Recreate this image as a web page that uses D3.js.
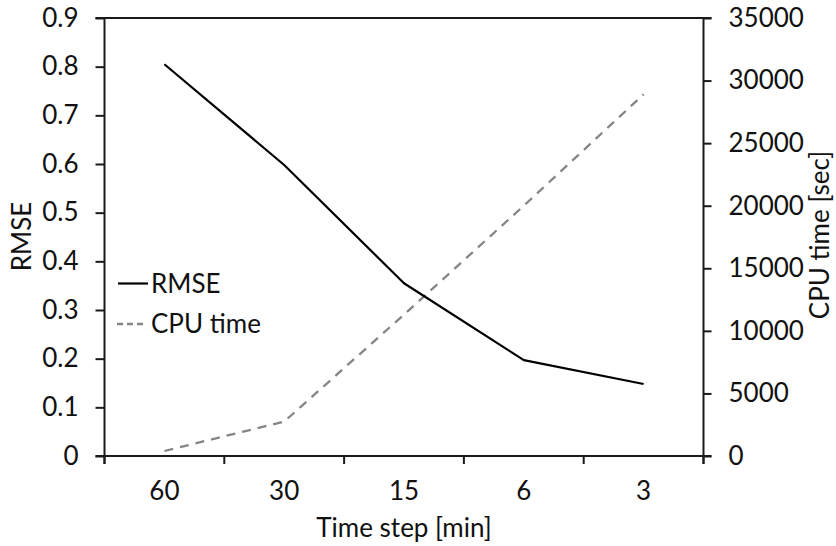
<!DOCTYPE html>
<html>
<head>
<meta charset="utf-8">
<script src="https://cdn.jsdelivr.net/npm/d3@7"></script>
<style>
  html, body { margin: 0; padding: 0; background: #fff; }
  svg { display: block; }
  text { font-family: Lato, "Open Sans", sans-serif; fill: #111; }
</style>
</head>
<body>
<svg id="chart" width="836" height="546"></svg>
<script>
// ---- data ----
const categories = ["60", "30", "15", "6", "3"];
const rmseValues = [0.805, 0.598, 0.355, 0.197, 0.148];
const cpuValues = [400, 2750, 11300, 20000, 28900];
const leftTicks = [0, 0.1, 0.2, 0.3, 0.4, 0.5, 0.6, 0.7, 0.8, 0.9];
const rightTicks = [0, 5000, 10000, 15000, 20000, 25000, 30000, 35000];
const seriesNames = ["RMSE", "CPU time"];

// ---- layout ----
const W = 836, H = 546;
const plot = { left: 104.5, right: 703.5, top: 18, bottom: 456 };
const FS = 26;
const axisColor = "#1a1a1a";

const svg = d3.select("#chart");

const x = d3.scaleBand().domain(categories).range([plot.left, plot.right]).padding(0);
const yL = d3.scaleLinear().domain([0, 0.9]).range([plot.bottom, plot.top]);
const yR = d3.scaleLinear().domain([0, 35000]).range([plot.bottom, plot.top]);
const cx = c => x(c) + x.bandwidth() / 2;

// left axis
const leftAxis = d3.axisLeft(yL).tickValues(leftTicks)
  .tickFormat(d => d === 0 ? "0" : d3.format(".1f")(d))
  .tickSize(9).tickPadding(17);
const gL = svg.append("g").attr("transform", `translate(${plot.left},0)`).call(leftAxis);

// right axis
const rightAxis = d3.axisRight(yR).tickValues(rightTicks)
  .tickFormat(d3.format("d")).tickSize(8).tickPadding(17);
const gR = svg.append("g").attr("transform", `translate(${plot.right},0)`).call(rightAxis);

// bottom axis labels (centered in categories)
const bottomAxis = d3.axisBottom(x).tickSize(0).tickPadding(26);
const gB = svg.append("g").attr("transform", `translate(0,${plot.bottom})`).call(bottomAxis);
gB.select(".domain").remove();

// category boundary ticks
const edges = categories.map(c => x(c)).concat([x.range()[1]]);
svg.append("g").selectAll("line").data(edges).join("line")
  .attr("x1", d => d).attr("x2", d => d)
  .attr("y1", plot.bottom).attr("y2", plot.bottom + 8)
  .attr("stroke", axisColor).attr("stroke-width", 2);

[gL, gR, gB].forEach(g => {
  g.selectAll(".domain").attr("stroke", axisColor).attr("stroke-width", 2);
  g.selectAll(".tick line").attr("stroke", axisColor).attr("stroke-width", 2);
  g.selectAll(".tick text").attr("font-size", FS).attr("font-family", "Lato, 'Open Sans', sans-serif").attr("fill", "#111");
});
gL.select(".domain").attr("d", `M0,${plot.top}V${plot.bottom + 8}`);
gR.select(".domain").attr("d", `M0,${plot.top}V${plot.bottom + 8}`);

// horizontal lines at 0 and top
svg.append("line").attr("x1", plot.left - 9).attr("x2", plot.right + 8)
  .attr("y1", plot.bottom).attr("y2", plot.bottom)
  .attr("stroke", axisColor).attr("stroke-width", 2);
svg.append("line").attr("x1", plot.left - 9).attr("x2", plot.right + 8)
  .attr("y1", plot.top).attr("y2", plot.top)
  .attr("stroke", axisColor).attr("stroke-width", 2);

// series
const rmseLine = d3.line().x((d, i) => cx(categories[i])).y(d => yL(d));
const cpuLine = d3.line().x((d, i) => cx(categories[i])).y(d => yR(d));

svg.append("path").datum(cpuValues).attr("d", cpuLine)
  .attr("fill", "none").attr("stroke", "#858585").attr("stroke-width", 2.3)
  .attr("stroke-dasharray", "9,7");
svg.append("path").datum(rmseValues).attr("d", rmseLine)
  .attr("fill", "none").attr("stroke", "#000").attr("stroke-width", 2.2)
  .attr("stroke-linejoin", "round");

// legend
const leg = svg.append("g");
leg.append("line").attr("x1", 118).attr("x2", 148).attr("y1", 283.5).attr("y2", 283.5)
  .attr("stroke", "#000").attr("stroke-width", 2.2);
leg.append("text").attr("x", 151).attr("y", 283.5).attr("dy", "0.35em")
  .attr("font-size", FS).text(seriesNames[0]);
leg.append("line").attr("x1", 117).attr("x2", 143).attr("y1", 324).attr("y2", 324)
  .attr("stroke", "#858585").attr("stroke-width", 2.3).attr("stroke-dasharray", "6,4");
leg.append("text").attr("x", 151).attr("y", 324).attr("dy", "0.35em")
  .attr("font-size", FS).text(seriesNames[1]);

// axis titles
svg.append("text").attr("transform", "translate(31,236.5) rotate(-90)")
  .attr("text-anchor", "middle").attr("font-size", FS).text("RMSE");
svg.append("text").attr("transform", "translate(829,235) rotate(-90)")
  .attr("text-anchor", "middle").attr("font-size", FS).text("CPU time [sec]");
svg.append("text").attr("x", 404).attr("y", 537)
  .attr("text-anchor", "middle").attr("font-size", FS).text("Time step [min]");
</script>
</body>
</html>
